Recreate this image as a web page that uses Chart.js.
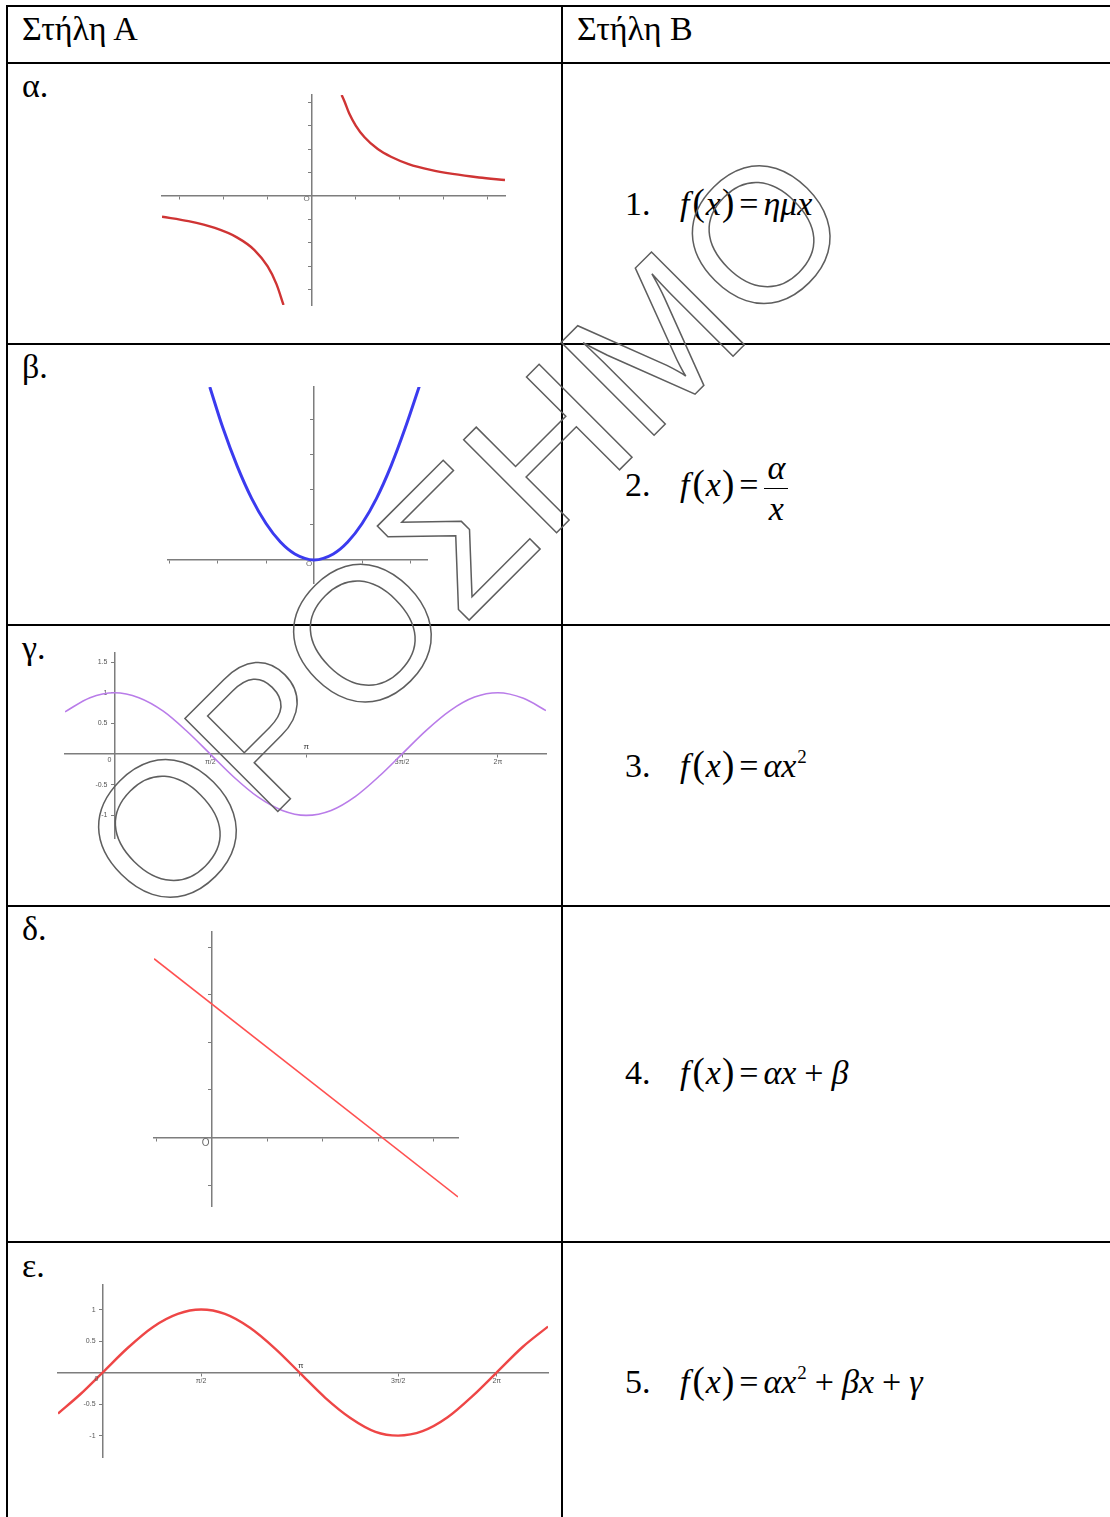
<!DOCTYPE html>
<html>
<head>
<meta charset="utf-8">
<script src="https://cdn.jsdelivr.net/npm/chart.js@4.4.0/dist/chart.umd.min.js"></script>
<style>
  html, body { margin: 0; padding: 0; background: #fff; }
  body { width: 1110px; height: 1517px; overflow: hidden; font-family: "Liberation Serif", "Times New Roman", serif; color: #000; }
  #page { position: relative; width: 1110px; height: 1517px; }
  .hl { position: absolute; left: 6px; right: 0; height: 2px; background: #000; }
  .vl { position: absolute; top: 5px; bottom: 0; width: 2px; background: #000; }
  .lbl { position: absolute; font-family: "Liberation Serif", "Times New Roman", serif; font-size: 34px; line-height: 34px; white-space: nowrap; }
  .frm { position: absolute; left: 625px; font-family: "Liberation Serif", "Times New Roman", serif; font-size: 34px; line-height: 34px; white-space: nowrap; }
  .frm .n { display: inline-block; width: 55px; }
  .frm i { font-style: italic; font-family: "Liberation Serif", "Times New Roman", serif; }
  .frm .f { margin-right: 2px; }
  .frm .p { font-size: 37px; margin: 0 1px; }
  .frm .eq { margin: 0 5px 0 4px; }
  .frm .op { margin: 0 8px; }
  .frm sup { font-size: 19px; vertical-align: 14px; line-height: 0; margin-left: 1px; }
  .frac { display: inline-block; vertical-align: middle; text-align: center; margin-left: 1px; }
  .frac span { display: block; padding: 0 3px; line-height: 40px; }
  .frac .top { border-bottom: 1.5px solid #000; }
  canvas.g { position: absolute; }
  #mark { position: absolute; left: 0; top: 0; pointer-events: none; }
</style>
</head>
<body>
<div id="page">
  <div class="hl" style="top:5px"></div>
  <div class="hl" style="top:62px"></div>
  <div class="hl" style="top:343px"></div>
  <div class="hl" style="top:624px"></div>
  <div class="hl" style="top:905px"></div>
  <div class="hl" style="top:1241px"></div>
  <div class="vl" style="left:6px"></div>
  <div class="vl" style="left:561px"></div>

  <div class="lbl" style="left:22px;top:12px">Στήλη Α</div>
  <div class="lbl" style="left:577px;top:12px">Στήλη Β</div>
  <div class="lbl" style="left:22px;top:69px">α.</div>
  <div class="lbl" style="left:22px;top:350px">β.</div>
  <div class="lbl" style="left:22px;top:631px">γ.</div>
  <div class="lbl" style="left:22px;top:912px">δ.</div>
  <div class="lbl" style="left:22px;top:1249px">ε.</div>

  <div class="frm" style="top:186px"><span class="n">1.</span><i class="f">f</i><span class="p">(</span><i>x</i><span class="p">)</span><span class="eq">=</span><i>ημx</i></div>
  <div class="frm" style="top:448px"><span class="n">2.</span><i class="f">f</i><span class="p">(</span><i>x</i><span class="p">)</span><span class="eq">=</span><span class="frac"><span class="top"><i>α</i></span><span><i>x</i></span></span></div>
  <div class="frm" style="top:748px"><span class="n">3.</span><i class="f">f</i><span class="p">(</span><i>x</i><span class="p">)</span><span class="eq">=</span><i>αx</i><sup>2</sup></div>
  <div class="frm" style="top:1055px"><span class="n">4.</span><i class="f">f</i><span class="p">(</span><i>x</i><span class="p">)</span><span class="eq">=</span><i>αx</i><span class="op">+</span><i>β</i></div>
  <div class="frm" style="top:1364px"><span class="n">5.</span><i class="f">f</i><span class="p">(</span><i>x</i><span class="p">)</span><span class="eq">=</span><i>αx</i><sup>2</sup><span class="op">+</span><i>βx</i><span class="op">+</span><i>γ</i></div>

  <canvas class="g" id="gA"></canvas>
  <canvas class="g" id="gB"></canvas>
  <canvas class="g" id="gC"></canvas>
  <canvas class="g" id="gD"></canvas>
  <canvas class="g" id="gE"></canvas>

  <svg id="mark" width="1110" height="1517">
    <text transform="translate(463,530) rotate(-45)" x="0" y="68" text-anchor="middle"
          font-family="Liberation Sans, Arial, sans-serif" font-size="191"
          fill="none" stroke="#5e5e5e" stroke-width="1.5">ΟΡΟΣΗΜΟ</text>
  </svg>
</div>

<script>
// ---- data ----
// α: y = a/x, two branches
const hypRightX = [0.68, 0.75, 0.85, 1.0, 1.2, 1.5, 1.8, 2.2, 2.7, 3.2, 3.8, 4.39];
const hypRightY = [4.3, 4.0, 3.52, 3.0, 2.5, 2.0, 1.67, 1.36, 1.11, 0.94, 0.79, 0.68];
const hypLeftX = [-3.4, -2.8, -2.2, -1.7, -1.3, -1.0, -0.8, -0.64];
const hypLeftY = [-0.88, -1.07, -1.36, -1.76, -2.3, -3.0, -3.75, -4.64];
const hypXTicks = [-3, -2, -1, 1, 2, 3, 4];
const hypYTicks = [-4, -3, -2, -1, 1, 2, 3, 4];

// β: parabola
const parX = [-2.17, -1.9, -1.6, -1.3, -1.0, -0.7, -0.4, 0, 0.4, 0.7, 1.0, 1.3, 1.6, 1.9, 2.2];
const parY = [4.94, 3.78, 2.68, 1.76, 1.04, 0.51, 0.17, 0, 0.17, 0.51, 1.04, 1.76, 2.68, 3.78, 5.0];
const parXTicks = [-3, -2, -1, 1, 2];
const parYTicks = [1, 2, 3, 4];

// γ: cosine (purple)
const cosX = [-0.81, -0.4, 0, 0.4, 0.8, 1.2, 1.57, 1.95, 2.35, 2.75, 3.14, 3.55, 3.95, 4.35, 4.71, 5.1, 5.5, 5.9, 6.28, 6.7, 7.07];
const cosY = [0.69, 0.92, 1, 0.92, 0.7, 0.36, 0, -0.37, -0.7, -0.92, -1, -0.92, -0.69, -0.35, 0, 0.38, 0.71, 0.93, 1, 0.91, 0.71];
const cosYTicks = [-1, -0.5, 0.5, 1, 1.5];
const cosYLabels = ['-1', '-0.5', '0.5', '1', '1.5'];

// δ: straight line
const lineX = [-1.04, 4.44];
const lineY = [3.76, -1.25];
const lineXTicks = [-1, 1, 2, 3, 4];
const lineYTicks = [-1, 1, 2, 3, 4];

// ε: sine (red)
const sinX = [-0.71, -0.35, 0, 0.4, 0.8, 1.2, 1.57, 1.95, 2.35, 2.75, 3.14, 3.55, 3.95, 4.35, 4.71, 5.1, 5.5, 5.9, 6.28, 6.7, 7.1];
const sinY = [-0.65, -0.34, 0, 0.39, 0.72, 0.93, 1, 0.93, 0.71, 0.38, 0, -0.4, -0.72, -0.94, -1, -0.93, -0.71, -0.37, 0, 0.41, 0.73];
const sinYTicks = [-1, -0.5, 0.5, 1];
const sinYLabels = ['-1', '-0.5', '0.5', '1'];

// shared x ticks of the trig graphs (π is written above the axis)
const piTicks = [1.571, 3.142, 4.712, 6.283];
const piLabels = ['π/2', '', '3π/2', '2π'];
const piAbove = 3.142;

// ---- drawing ----
const PAD = 8;
const AXIS = '#7d7d7d';
const TICKFONT = { family: 'Liberation Sans, Arial, sans-serif', size: 7 };

function pts(xs, ys) {
  return xs.map((x, i) => ({ x: x, y: ys[i] }));
}

// loose labels: the "O"/"0" by the origin and the π above the axis
const looseLabels = {
  id: 'looseLabels',
  afterDraw(chart, args, opts) {
    if (!opts.items) return;
    const ctx = chart.ctx;
    ctx.save();
    ctx.textAlign = 'center';
    ctx.textBaseline = 'middle';
    opts.items.forEach(it => {
      ctx.font = it.size + 'px Liberation Sans, Arial, sans-serif';
      ctx.fillStyle = it.color || '#6a6a6a';
      const px = chart.scales.x.getPixelForValue(it.x);
      const py = chart.scales.y.getPixelForValue(it.y);
      ctx.fillText(it.text, px + it.dx, py + it.dy);
    });
    ctx.restore();
  }
};

function axis(kind, min, max, tickVals, labels) {
  return {
    type: 'linear',
    min: min,
    max: max,
    position: kind === 'x' ? { y: 0 } : { x: 0 },
    afterFit: kind === 'x' ? (sc) => { sc.height = 0; } : (sc) => { sc.width = 0; },
    afterBuildTicks: (sc) => { sc.ticks = tickVals.map(v => ({ value: v })); },
    grid: { drawOnChartArea: false, drawTicks: true, tickLength: 3, color: AXIS, lineWidth: 1 },
    border: { display: true, color: AXIS, width: 1.5 },
    ticks: {
      display: !!labels,
      autoSkip: false,
      maxRotation: 0,
      padding: 1,
      color: '#555',
      font: TICKFONT,
      callback: (v, i) => labels ? (kind === 'y' ? labels[i] + '\u2003' : labels[i]) : ''
    }
  };
}

function graph(id, box, xr, yr, xt, yt, xl, yl, sets, loose) {
  const cv = document.getElementById(id);
  cv.width = box.w + 2 * PAD;
  cv.height = box.h + 2 * PAD;
  cv.style.left = (box.x - PAD) + 'px';
  cv.style.top = (box.y - PAD) + 'px';
  return new Chart(cv, {
    type: 'scatter',
    data: {
      datasets: sets.map(s => ({
        data: s.data,
        showLine: true,
        borderColor: s.color,
        borderWidth: s.width,
        pointRadius: 0,
        cubicInterpolationMode: 'monotone',
        fill: false
      }))
    },
    options: {
      responsive: false,
      animation: false,
      events: [],
      layout: { padding: PAD },
      plugins: { legend: { display: false }, tooltip: { enabled: false }, looseLabels: { items: loose || [] } },
      scales: {
        x: axis('x', xr[0], xr[1], xt, xl),
        y: axis('y', yr[0], yr[1], yt, yl)
      }
    },
    plugins: [looseLabels]
  });
}

graph('gA', { x: 162, y: 95, w: 343, h: 210 }, [-3.4, 4.39], [-4.64, 4.3],
  hypXTicks, hypYTicks, null, null,
  [{ data: pts(hypRightX, hypRightY), color: '#cf3434', width: 2.4 },
   { data: pts(hypLeftX, hypLeftY), color: '#cf3434', width: 2.4 }],
  [{ text: 'O', x: 0, y: 0, dx: -5, dy: 3, size: 8 }]);

graph('gB', { x: 168, y: 387, w: 259, h: 196 }, [-3.04, 2.35], [-0.66, 4.94],
  parXTicks, parYTicks, null, null,
  [{ data: pts(parX, parY), color: '#3b3bef', width: 3 }],
  [{ text: 'O', x: 0, y: 0, dx: -5, dy: 4, size: 8 }]);

graph('gC', { x: 65, y: 653, w: 481, h: 185 }, [-0.81, 7.07], [-1.37, 1.65],
  piTicks, cosYTicks, piLabels, cosYLabels,
  [{ data: pts(cosX, cosY), color: '#b97ce9', width: 1.6 }],
  [{ text: '0', x: 0, y: 0, dx: -5, dy: 6, size: 7, color: '#555' },
   { text: 'π', x: piAbove, y: 0, dx: 0, dy: -7, size: 8, color: '#333' }]);

graph('gD', { x: 154, y: 932, w: 304, h: 274 }, [-1.04, 4.44], [-1.44, 4.32],
  lineXTicks, lineYTicks, null, null,
  [{ data: pts(lineX, lineY), color: '#ff5050', width: 1.6 }],
  [{ text: 'O', x: 0, y: 0, dx: -6, dy: 6, size: 10 }]);

graph('gE', { x: 58, y: 1285, w: 490, h: 172 }, [-0.71, 7.1], [-1.34, 1.39],
  piTicks, sinYTicks, piLabels, sinYLabels,
  [{ data: pts(sinX, sinY), color: '#ee4646', width: 2.4 }],
  [{ text: '0', x: 0, y: 0, dx: -6, dy: 6, size: 7, color: '#555' },
   { text: 'π', x: piAbove, y: 0, dx: 1, dy: -7, size: 8, color: '#333' }]);
</script>
</body>
</html>
